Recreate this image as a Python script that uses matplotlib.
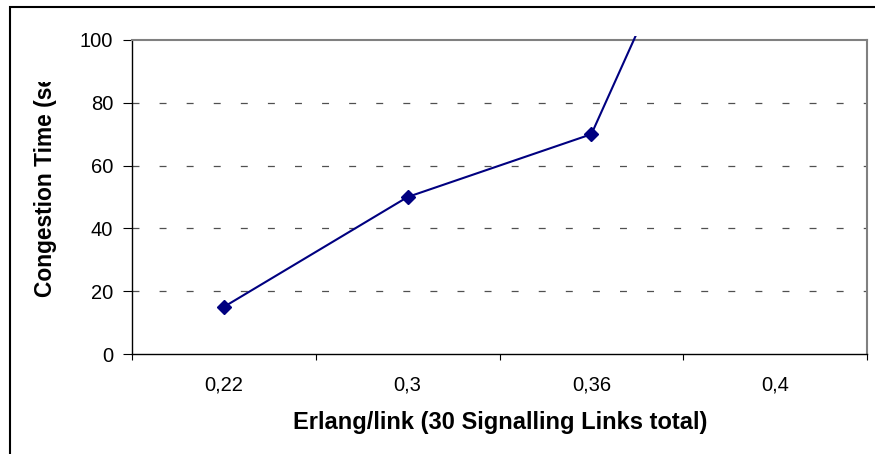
import matplotlib
matplotlib.use("Agg")
import matplotlib.pyplot as plt
from matplotlib.patches import Rectangle
from matplotlib.transforms import Bbox

# datos
categorias = ['0,22', '0,3', '0,36', '0,4']
tiempo_congestion = [15, 50, 70, 200]
y_ticks = [0, 20, 40, 60, 80, 100]

plt.rcParams['font.family'] = ['Liberation Sans', 'DejaVu Sans']
plt.rcParams['lines.scale_dashes'] = False

W, H = 875, 454
fig = plt.figure(figsize=(W / 100, H / 100), dpi=100)
ax = fig.add_axes([132 / W, 1 - 354 / H, 735 / W, 314 / H])

x = list(range(len(categorias)))
linea, = ax.plot(x, tiempo_congestion, color='#000080', linewidth=1.5,
                 marker='D', markersize=7.5, markerfacecolor='#000080',
                 markeredgecolor='#000080', zorder=3)
# la linea sale un poco por encima del area de trazado
clip = Rectangle((0, 0), 1, 1.013, transform=ax.transAxes, visible=False)
ax.add_patch(clip)
linea.set_clip_path(clip)

ax.set_xlim(-0.5, len(categorias) - 0.5)
ax.set_ylim(0, 100)

# marcas del eje x en los limites de categoria, etiquetas al centro
ax.set_xticks([i - 0.5 for i in range(len(categorias) + 1)])
ax.set_xticklabels([])
ax.set_xticks(x, minor=True)
ax.set_xticklabels(categorias, minor=True)
ax.tick_params(axis='x', which='major', direction='out', length=4.5,
               width=0.8, color='black')
ax.tick_params(axis='x', which='minor', length=0, labelsize=14.5, pad=15.5)

ax.set_yticks(y_ticks)
ax.set_yticklabels([str(v) for v in y_ticks])
ax.tick_params(axis='y', direction='out', length=6.5, width=0.8,
               labelsize=14.5, pad=7)

for lado in ['left', 'bottom']:
    ax.spines[lado].set_color('black')
    ax.spines[lado].set_linewidth(1.0)
for lado in ['top', 'right']:
    ax.spines[lado].set_color('#808080')
    ax.spines[lado].set_linewidth(1.5)

for v in y_ticks[1:-1]:
    ax.axhline(v, color='#505050', linewidth=0.9, dashes=(5, 14.5), zorder=1)

fig.text(500 / W, 1 - 429 / H, 'Erlang/link (30 Signalling Links total)',
         ha='center', va='baseline', fontsize=17, fontweight='bold')

ylab = fig.text(46 / W, 1 - 297 / H, 'Congestion Time (sec)', rotation=90,
                ha='center', va='bottom', fontsize=16.4, fontweight='bold')
ylab.set_clip_box(Bbox.from_extents(0, 0, W, H - 82))
ylab.set_clip_on(True)

# borde del area del grafico
fig.patches.append(Rectangle((10 / W, -0.5), 2, 1 - 7 / H + 0.5,
                             transform=fig.transFigure, fill=False,
                             edgecolor='black', linewidth=1.5))

fig.savefig('out.png', dpi=100)
